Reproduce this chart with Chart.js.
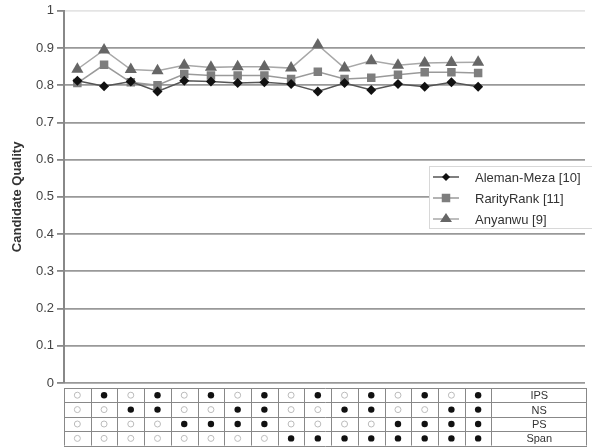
<!DOCTYPE html>
<html>
<head>
<meta charset="utf-8">
<script src="https://cdn.jsdelivr.net/npm/chart.js@4"></script>
<style>
  html, body { margin: 0; padding: 0; background: #fff; }
  #wrap { width: 592px; height: 448px; }
</style>
</head>
<body>
<div id="wrap"><canvas id="grafico" width="592" height="448"></canvas></div>
<script>
// configurations (columns of the table)
const colunas = ['1','2','3','4','5','6','7','8','9','10','11','12','13','14','15','16'];

// candidate quality per configuration
const alemanMeza = [0.812, 0.797, 0.810, 0.783, 0.812, 0.810, 0.806, 0.808, 0.803, 0.783, 0.806, 0.787, 0.803, 0.796, 0.808, 0.796];
const rarityRank = [0.806, 0.855, 0.808, 0.800, 0.830, 0.826, 0.826, 0.826, 0.817, 0.836, 0.817, 0.820, 0.828, 0.835, 0.835, 0.833];
const anyanwu    = [0.843, 0.895, 0.842, 0.839, 0.854, 0.848, 0.850, 0.850, 0.846, 0.908, 0.846, 0.866, 0.854, 0.860, 0.861, 0.862];

// y axis ticks
const ticksY = [0, 0.1, 0.2, 0.3, 0.4, 0.5, 0.6, 0.7, 0.8, 0.9, 1];

// table below the chart (1 = filled dot, 0 = open dot)
const linhasTabela = ['IPS', 'NS', 'PS', 'Span'];
const ips  = [0,1,0,1,0,1,0,1,0,1,0,1,0,1,0,1];
const ns   = [0,0,1,1,0,0,1,1,0,0,1,1,0,0,1,1];
const ps   = [0,0,0,0,1,1,1,1,0,0,0,0,1,1,1,1];
const span = [0,0,0,0,0,0,0,0,1,1,1,1,1,1,1,1];
const valoresTabela = [ips, ns, ps, span];

const pontos = arr => arr.map((v, i) => ({ x: i, y: v }));

// draws a point marker like chart.js does
function marcador(ctx, estilo, x, y, r, cor) {
  ctx.save();
  ctx.fillStyle = cor;
  ctx.beginPath();
  if (estilo === 'rectRot') {
    ctx.moveTo(x, y - r); ctx.lineTo(x + r, y); ctx.lineTo(x, y + r); ctx.lineTo(x - r, y);
  } else if (estilo === 'rect') {
    const s = r * 0.85;
    ctx.rect(x - s, y - s, 2 * s, 2 * s);
  } else {
    const h = r * 1.5;
    ctx.moveTo(x, y - h * 0.66); ctx.lineTo(x + r, y + h * 0.34); ctx.lineTo(x - r, y + h * 0.34);
  }
  ctx.closePath();
  ctx.fill();
  ctx.restore();
}

const legendaTabela = {
  id: 'legendaTabela',
  afterDraw(chart) {
    const ctx = chart.ctx;
    const xs = chart.scales.x;
    const area = chart.chartArea;

    // legend box
    const lx = 429, ly = 166, lw = 170, lh = 62;
    ctx.save();
    ctx.fillStyle = '#fff';
    ctx.fillRect(lx, ly, lw, lh);
    ctx.strokeStyle = '#d8d8d8';
    ctx.lineWidth = 1;
    ctx.strokeRect(lx + 0.5, ly + 0.5, lw, lh);
    ctx.font = '13px "Liberation Sans", Arial, sans-serif';
    ctx.textBaseline = 'middle';
    chart.data.datasets.forEach((ds, i) => {
      const y = ly + 11 + i * 21;
      ctx.strokeStyle = ds.borderColor;
      ctx.lineWidth = 1.5;
      ctx.beginPath(); ctx.moveTo(lx + 4, y); ctx.lineTo(lx + 30, y); ctx.stroke();
      marcador(ctx, ds.pointStyle, lx + 17, y, ds.pointRadius - 1, ds.pointBackgroundColor);
      ctx.fillStyle = '#333';
      ctx.fillText(ds.label, lx + 46, y + 1);
    });
    ctx.restore();

    // table
    const topo = area.bottom + 5, alt = 14.4;
    const esq = xs.getPixelForValue(-0.5);
    const meio = xs.getPixelForValue(colunas.length - 0.5);
    const dir = area.right + 2;
    ctx.save();
    ctx.strokeStyle = '#888';
    ctx.lineWidth = 1;
    for (let r = 0; r <= linhasTabela.length; r++) {
      const y = Math.round(topo + r * alt) + 0.5;
      ctx.beginPath(); ctx.moveTo(esq, y); ctx.lineTo(dir, y); ctx.stroke();
    }
    for (let c = 0; c <= colunas.length; c++) {
      const x = Math.round(xs.getPixelForValue(c - 0.5)) + 0.5;
      ctx.beginPath(); ctx.moveTo(x, topo); ctx.lineTo(x, topo + alt * linhasTabela.length); ctx.stroke();
    }
    ctx.beginPath(); ctx.moveTo(dir - 0.5, topo); ctx.lineTo(dir - 0.5, topo + alt * linhasTabela.length); ctx.stroke();

    ctx.font = '11px "Liberation Sans", Arial, sans-serif';
    ctx.textAlign = 'center';
    ctx.textBaseline = 'middle';
    valoresTabela.forEach((linha, r) => {
      const y = topo + r * alt + alt / 2;
      linha.forEach((v, c) => {
        const x = xs.getPixelForValue(c);
        ctx.beginPath();
        if (v) {
          ctx.fillStyle = '#111';
          ctx.arc(x, y, 3.2, 0, Math.PI * 2);
          ctx.fill();
        } else {
          ctx.strokeStyle = '#bbb';
          ctx.arc(x, y, 3, 0, Math.PI * 2);
          ctx.stroke();
        }
      });
      ctx.fillStyle = '#333';
      ctx.fillText(linhasTabela[r], (meio + dir) / 2, y + 1);
    });
    ctx.restore();
  }
};

const ctx = document.getElementById('grafico').getContext('2d');

const grafico = new Chart(ctx, {
  type: 'line',
  data: {
    datasets: [
      {
        label: 'Aleman-Meza [10]',
        data: pontos(alemanMeza),
        borderColor: '#555',
        borderWidth: 1.5,
        pointStyle: 'rectRot',
        pointRadius: 5,
        pointBackgroundColor: '#111',
        pointBorderWidth: 0,
        tension: 0,
        order: 1
      },
      {
        label: 'RarityRank [11]',
        data: pontos(rarityRank),
        borderColor: '#9a9a9a',
        borderWidth: 1.5,
        pointStyle: 'rect',
        pointRadius: 6,
        pointBackgroundColor: '#7e7e7e',
        pointBorderWidth: 0,
        tension: 0,
        order: 2
      },
      {
        label: 'Anyanwu [9]',
        data: pontos(anyanwu),
        borderColor: '#a8a8a8',
        borderWidth: 1.5,
        pointStyle: 'triangle',
        pointRadius: 7,
        pointBackgroundColor: '#666',
        pointBorderWidth: 0,
        tension: 0,
        order: 3
      }
    ]
  },
  options: {
    animation: false,
    responsive: false,
    devicePixelRatio: 1,
    layout: { padding: { top: 4, right: 6, bottom: 65, left: 6 } },
    plugins: {
      legend: { display: false },
      tooltip: { enabled: false }
    },
    scales: {
      x: {
        type: 'linear',
        display: false,
        min: -0.5,
        max: 19.0
      },
      y: {
        min: 0,
        max: 1,
        afterBuildTicks: axis => { axis.ticks = ticksY.map(v => ({ value: v })); },
        afterFit: axis => { axis.width = 58; },
        border: { color: '#888', width: 2 },
        grid: {
          color: c => c.tick && c.tick.value === 1 ? '#e4e4e4' : '#999',
          lineWidth: 1.8,
          tickLength: 7,
          tickColor: '#888'
        },
        ticks: {
          color: '#444',
          padding: 3,
          font: { family: '"Liberation Sans", Arial, sans-serif', size: 13 },
          callback: v => String(v)
        },
        title: {
          display: true,
          text: 'Candidate Quality',
          color: '#333',
          padding: { top: 4, bottom: 0 },
          font: { family: '"Liberation Sans", Arial, sans-serif', size: 13, weight: 'bold' }
        }
      }
    }
  },
  plugins: [legendaTabela]
});
</script>
</body>
</html>
